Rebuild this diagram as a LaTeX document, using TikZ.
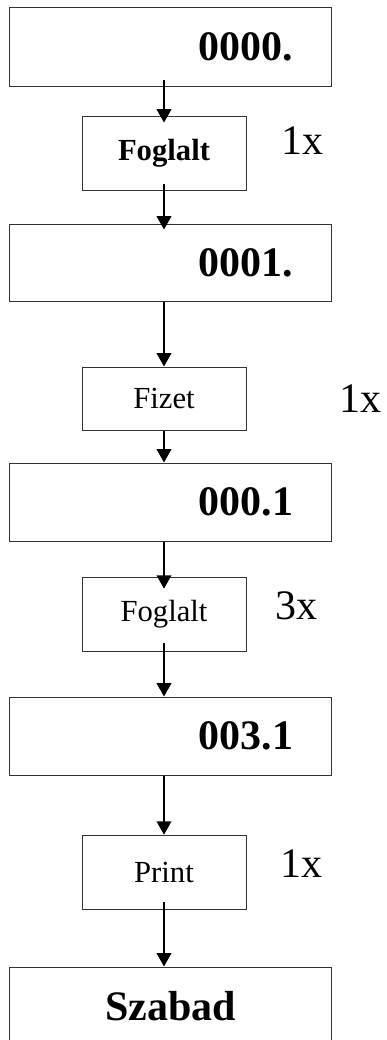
\documentclass[tikz,border=0pt]{standalone}
\usepackage{fontspec}
\setmainfont{Liberation Serif}
\usetikzlibrary{shapes,arrows,arrows.meta,positioning,calc}
\definecolor{frame}{RGB}{51,51,51}

\begin{document}
\begin{tikzpicture}[x=0.75pt, y=-0.75pt,
    bigbox/.style={draw=frame, line width=0.75pt, minimum width=242pt, minimum height=58.5pt, inner sep=0pt,
        font=\fontsize{31.5}{36}\selectfont\bfseries},
    numbox/.style={bigbox, text width=184pt, inner xsep=29pt, align=right},
    opbox/.style={draw=frame, line width=0.75pt, minimum width=123pt, minimum height=56pt, inner sep=0pt,
        font=\fontsize{23}{27}\selectfont},
    times/.style={anchor=base, inner sep=0pt, font=\fontsize{31.5}{36}\selectfont},
    arr/.style={-{Triangle[width=11pt,length=10pt]}, line width=1.1pt}]
\useasboundingbox (0,0) rectangle (386,1040);

% kijelzo allapotok
\node[numbox, minimum height=59.25pt] (b0) at (170.5,46.5) {0000.};
\node[numbox, minimum height=57.75pt] (b1) at (170.5,262.5) {0001.};
\node[numbox] (b2) at (170.5,502) {000.1};
\node[numbox] (b3) at (170.5,736) {003.1};
\node[bigbox] (b4) at (170.5,1006) {Szabad};

% gombnyomasok
\node[opbox, minimum height=55.5pt, font=\fontsize{23}{27}\selectfont\bfseries] (f1) at (164,153) {Foglalt};
\node[opbox, minimum height=47.25pt] (f2) at (164,398.5) {Fizet};
\node[opbox] (f3) at (164,614.5) {Foglalt};
\node[opbox] (f4) at (164,872.5) {Print};

\node[times] (m1) at (302.5,154) {1x};
\node[times] (m2) at (360,412) {1x};
\node[times] (m3) at (296,619) {3x};
\node[times] (m4) at (301.5,877) {1x};

\draw[arr] ($(b0.south -| f1.north)+(0,-7)$) -- ($(f1.north)+(0,7)$);
\draw[arr] ($(f1.south)+(0,-7)$) -- ($(b1.north -| f1.south)+(0,6)$);
\draw[arr] (b1.south -| f2.north) -- (f2.north);
\draw[arr] (f2.south) -- (b2.north -| f2.south);
\draw[arr] (b2.south -| f3.north) -- ($(f3.north)+(0,12)$);
\draw[arr] ($(f3.south)+(0,-9)$) -- (b3.north -| f3.south);
\draw[arr] (b3.south -| f4.north) -- (f4.north);
\draw[arr] ($(f4.south)+(0,-8)$) -- (b4.north -| f4.south);
\end{tikzpicture}
\end{document}
